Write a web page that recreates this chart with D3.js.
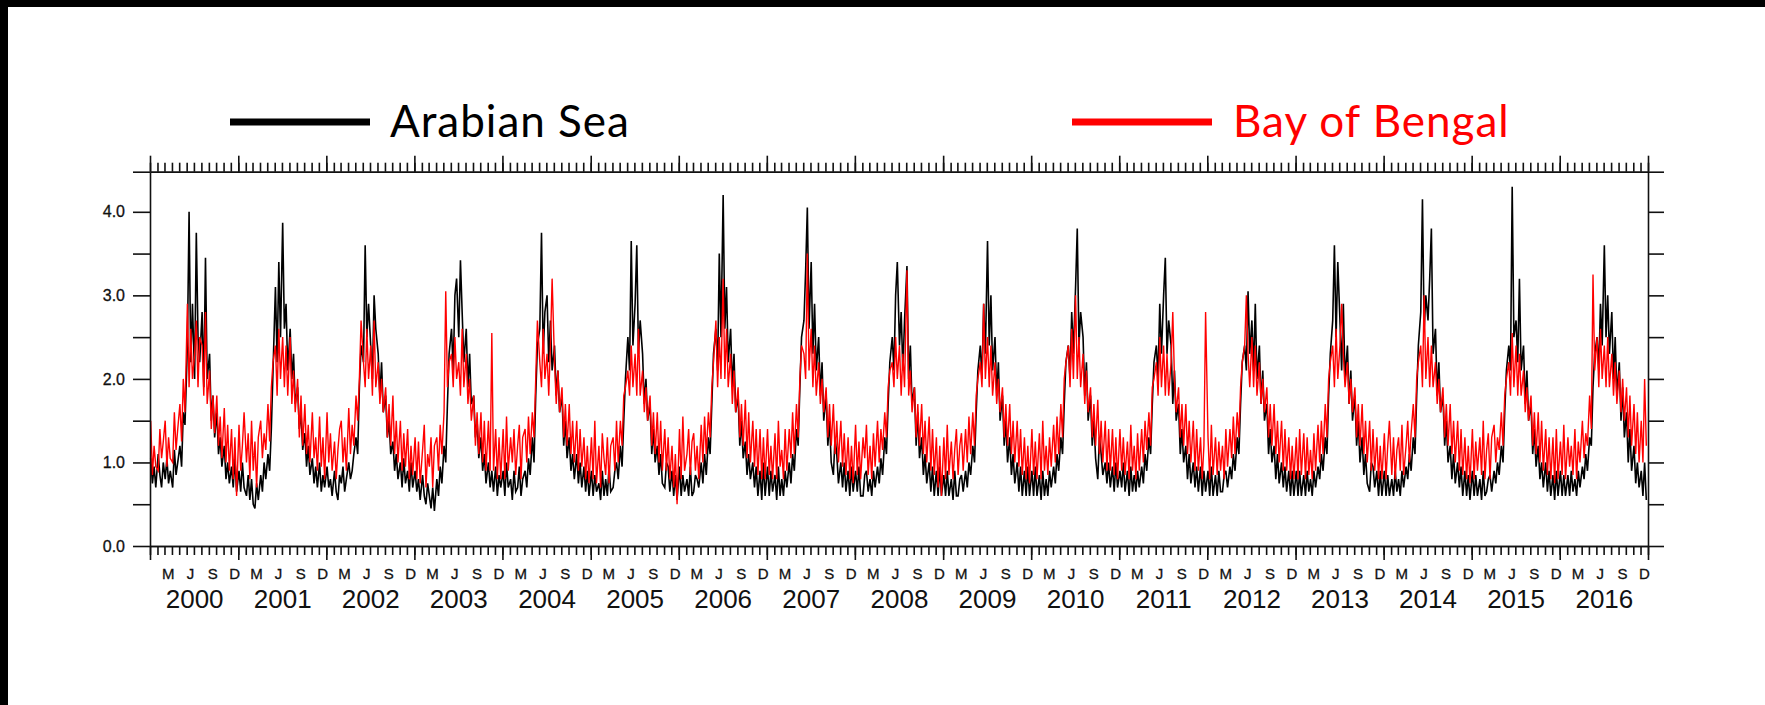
<!DOCTYPE html>
<html>
<head>
<meta charset="utf-8">
<script src="https://cdn.jsdelivr.net/npm/d3@7"></script>
<style>
  body { margin: 0; background: #fff; }
  svg { display: block; }
  .axis path, .axis line { stroke: #111; stroke-width: 1.6; }
  .axis text { fill: #111; font-family: "Liberation Sans", Arial, sans-serif; }
  .legend text { font-family: Lato, "Open Sans", sans-serif; font-size: 44px; letter-spacing: 1px; }
</style>
</head>
<body>
<div class="chart"></div>
<script>
// 年と月ラベル
const years = d3.range(2000, 2017);
const monthLetters = ["M", "J", "S", "D"];
const labelMonths = [2, 5, 8, 11];

// 週ごとの値 (各月 4, 11, 18, 25 日) 2000-2016, 1行 = 1年
const arabianSea = [
  1.05,0.75,0.95,0.7, 1.1,0.85,0.7,1.0, 0.8,1.05,0.75,0.9, 0.7,1.15,0.85,1.0, 1.2,0.95,1.6,1.45, 2.4,4.0,2.2,2.9, 2.0,3.75,2.5,2.2, 2.8,1.9,3.45,2.0, 2.3,1.5,1.8,1.3, 1.6,1.1,1.3,0.95, 1.2,0.8,1.0,0.75, 0.95,0.7,1.05,0.65,
  0.9,0.65,1.0,0.7, 0.6,0.85,0.55,0.8, 0.5,0.45,0.75,0.55, 0.85,0.65,1.0,0.8, 1.1,0.9,1.4,2.1, 3.1,2.2,3.4,2.5, 3.87,2.6,2.9,2.1, 2.6,2.0,2.3,1.7, 1.9,1.4,1.6,1.15, 1.35,0.95,1.2,0.85, 1.05,0.75,0.95,0.7, 1.0,0.65,0.85,0.7,
  0.95,0.7,0.8,0.6, 0.9,0.65,0.55,0.85, 0.75,0.95,0.65,0.8, 1.0,0.8,0.9,1.1, 1.3,1.1,1.9,2.4, 2.2,3.6,2.5,2.9, 2.4,2.0,3.0,2.6, 2.3,1.8,2.2,1.6, 1.8,1.3,1.5,1.1, 1.25,0.9,1.1,0.8, 1.0,0.7,1.05,0.75, 0.9,0.65,1.0,0.7,
  0.9,0.65,0.8,0.55, 0.85,0.6,0.5,0.75, 0.6,0.45,0.7,0.42, 0.8,0.6,0.95,0.75, 1.2,1.0,1.7,2.3, 2.6,2.1,3.0,3.2, 2.5,3.42,2.8,2.2, 2.6,1.9,2.3,1.7, 1.8,1.3,1.5,1.05, 1.3,0.9,1.1,0.75, 1.0,0.7,0.9,0.65, 0.95,0.6,0.85,0.7,
  0.9,0.6,1.0,0.7, 0.8,0.55,0.9,0.65, 0.7,0.95,0.6,0.8, 0.9,0.7,1.05,0.85, 1.3,1.0,1.8,2.4, 2.6,3.75,2.3,2.8, 3.0,2.2,2.7,2.1, 2.4,1.8,2.1,1.6, 1.8,1.2,1.5,1.05, 1.3,0.9,1.1,0.8, 1.1,0.75,1.0,0.7, 0.95,0.65,0.9,0.6,
  0.9,0.6,0.85,0.65, 0.75,0.55,0.9,0.6, 0.8,0.6,0.95,0.65, 0.7,0.9,1.0,0.8, 1.2,0.95,1.5,2.0, 2.5,2.1,3.65,2.4, 2.9,3.6,2.3,2.7, 2.3,1.7,2.0,1.5, 1.7,1.1,1.4,1.0, 1.2,0.85,1.1,0.75, 0.7,1.0,0.95,0.65, 0.9,0.6,0.85,0.55,
  0.95,0.6,0.85,0.65, 0.8,0.6,0.95,0.6, 0.65,0.85,0.8,0.7, 1.0,0.75,1.1,0.85, 1.3,1.1,1.7,2.3, 2.6,2.1,3.5,2.5, 4.2,2.6,3.1,2.2, 2.6,1.9,2.3,1.6, 1.8,1.2,1.5,1.05, 1.25,0.85,1.1,0.8, 1.0,0.7,0.95,0.6, 0.9,0.55,1.0,0.6,
  0.95,0.6,0.9,0.65, 0.85,0.55,0.95,0.6, 0.8,0.6,0.9,0.7, 1.0,0.75,1.1,0.9, 1.4,1.2,1.9,2.5, 2.7,3.3,4.05,2.6, 3.4,2.3,2.9,2.1, 2.5,1.8,2.2,1.5, 1.8,1.2,1.5,1.0, 0.85,1.3,1.1,0.75, 1.0,0.7,1.0,0.65, 0.9,0.6,0.95,0.65,
  0.9,0.65,0.95,0.6, 0.6,0.85,0.9,0.65, 0.8,0.6,0.9,0.7, 0.95,0.75,1.05,0.85, 1.3,1.1,1.7,2.2, 2.5,2.1,3.0,3.4, 2.4,2.8,2.1,2.7, 3.35,2.0,2.4,1.7, 1.9,1.2,1.6,1.05, 1.3,0.85,1.1,0.75, 1.0,0.65,0.95,0.6, 0.9,0.6,0.95,0.6,
  0.85,0.6,0.9,0.6, 0.8,0.55,0.9,0.6, 0.6,0.8,0.85,0.65, 0.9,0.7,1.0,0.85, 1.2,1.0,1.6,2.1, 2.4,2.0,2.9,2.3, 3.65,2.4,3.0,2.1, 2.5,1.8,2.2,1.5, 1.8,1.2,1.5,1.0, 1.3,0.85,1.1,0.75, 1.0,0.65,0.95,0.6, 0.9,0.6,0.95,0.6,
  0.9,0.6,0.95,0.6, 0.85,0.55,0.9,0.6, 0.8,0.6,0.9,0.7, 0.95,0.75,1.1,0.9, 1.3,1.1,1.7,2.2, 2.4,2.0,2.8,2.3, 3.1,3.8,2.4,2.8, 2.5,1.8,2.2,1.5, 1.8,1.2,1.5,1.05, 0.8,1.3,1.1,0.85, 1.0,0.75,1.0,0.7, 0.95,0.65,1.0,0.7,
  0.9,0.7,1.0,0.65, 0.9,0.6,0.95,0.65, 0.85,0.65,0.9,0.7, 0.95,0.75,1.1,0.9, 1.3,1.1,1.7,2.2, 2.4,2.0,2.9,2.3, 3.0,3.45,2.3,2.7, 2.4,1.7,2.1,1.5, 1.7,1.1,1.4,1.0, 1.2,0.8,1.1,0.75, 1.0,0.7,0.95,0.65, 0.95,0.6,0.9,0.65,
  0.9,0.6,0.95,0.6, 0.85,0.6,0.9,0.65, 0.65,0.85,0.9,0.7, 0.95,0.8,1.1,0.9, 1.3,1.1,1.7,2.2, 2.4,2.1,3.05,2.3, 2.7,2.1,2.9,2.0, 2.4,1.7,2.1,1.5, 1.7,1.1,1.4,1.0, 1.2,0.8,1.1,0.75, 1.0,0.7,0.95,0.65, 0.9,0.6,0.9,0.6,
  0.9,0.6,0.9,0.6, 0.85,0.6,0.9,0.65, 0.8,0.6,0.9,0.7, 0.95,0.8,1.1,0.9, 1.3,1.1,1.8,2.3, 2.7,3.6,2.5,3.4, 2.7,2.1,2.9,2.0, 2.4,1.7,2.1,1.5, 1.8,1.2,1.5,1.0, 1.3,0.85,1.1,0.75, 0.65,1.0,0.95,0.7, 0.9,0.6,0.9,0.6,
  0.9,0.6,0.85,0.6, 0.8,0.6,0.9,0.65, 0.8,0.6,0.9,0.7, 0.95,0.8,1.1,0.9, 1.3,1.1,1.8,2.4, 2.8,4.15,2.6,3.0, 2.7,3.2,3.8,2.3, 2.6,1.8,2.2,1.6, 1.8,1.2,1.5,1.0, 1.2,0.8,1.1,0.75, 1.0,0.7,0.95,0.6, 0.9,0.6,0.85,0.55,
  0.9,0.6,0.85,0.6, 0.8,0.55,0.9,0.6, 0.65,0.8,0.85,0.65, 0.9,0.75,1.0,0.85, 1.2,1.0,1.6,2.1, 2.4,2.1,4.3,2.5, 2.7,2.2,3.2,2.1, 2.4,1.7,2.1,1.5, 1.7,1.1,1.4,0.95, 1.2,0.8,1.0,0.7, 1.0,0.65,0.9,0.6, 0.85,0.55,0.9,0.6,
  0.9,0.6,0.85,0.6, 0.85,0.6,0.9,0.65, 0.8,0.6,0.9,0.7, 0.95,0.8,1.1,0.9, 1.3,1.2,1.9,2.3, 2.5,2.1,2.9,2.4, 3.6,2.5,3.0,2.3, 2.8,2.0,2.5,1.8, 2.2,1.5,1.9,1.3, 1.6,1.0,1.4,0.9, 1.2,0.75,1.0,0.7, 0.9,0.6,1.0,0.55
];

const bayOfBengal = [
  1.5,0.85,1.2,0.95, 0.9,1.4,1.05,1.25, 1.5,0.95,1.3,1.05, 1.0,1.6,1.15,1.4, 1.7,1.25,2.0,1.6, 2.9,1.9,2.6,2.0, 2.3,2.7,1.9,2.5, 2.4,1.8,2.8,1.7, 2.1,1.4,1.8,1.35, 1.8,1.2,1.55,1.05, 1.65,1.0,1.45,0.9, 1.4,0.8,1.3,0.6,
  1.45,0.9,1.2,1.6, 1.0,1.35,0.8,1.5, 0.9,1.25,0.7,1.3, 1.5,1.05,1.35,1.15, 1.7,1.25,1.9,2.2, 2.4,1.8,2.6,2.0, 2.5,1.9,2.4,1.8, 2.5,1.7,2.1,1.6, 2.0,1.3,1.8,1.2, 1.7,1.1,1.45,1.0, 1.6,1.05,1.3,0.9, 1.55,0.95,1.3,0.8,
  1.6,1.0,1.35,0.9, 1.25,0.8,1.15,1.4, 1.5,1.0,1.3,0.9, 1.65,1.1,1.45,1.2, 1.8,1.5,2.0,2.7, 2.2,1.9,2.6,2.0, 2.4,1.8,2.7,1.9, 2.2,1.7,2.0,1.6, 1.9,1.3,1.7,1.2, 1.8,1.1,1.5,1.0, 1.5,0.9,1.35,0.95, 1.4,0.8,1.2,0.85,
  1.3,0.8,1.25,0.75, 1.15,1.45,0.7,1.1, 0.95,1.3,0.7,1.2, 1.3,0.9,1.45,1.1, 1.6,3.05,1.9,2.2, 2.3,1.9,2.5,2.0, 2.2,1.8,2.6,1.9, 2.3,1.7,2.0,1.5, 1.8,1.2,1.6,1.1, 1.6,1.0,1.5,0.9, 1.5,0.9,2.55,0.9, 1.4,0.8,1.3,0.8,
  1.4,0.8,1.55,0.9, 1.3,1.0,1.4,0.85, 1.2,1.45,0.8,1.3, 1.4,1.0,1.55,1.1, 1.6,1.3,2.0,2.7, 2.2,1.9,2.6,2.0, 2.3,1.8,2.4,3.2, 2.2,1.7,2.1,1.6, 1.9,1.3,1.7,1.2, 1.7,1.1,1.5,1.0, 1.5,0.9,1.4,0.95, 1.3,0.8,1.2,0.75,
  1.3,0.8,1.5,0.75, 1.2,0.7,1.35,1.05, 0.85,1.3,0.75,1.2, 1.3,0.9,1.5,1.0, 1.5,1.2,1.8,1.9, 2.1,1.8,2.4,1.9, 2.3,1.8,2.6,1.8, 2.1,1.6,1.9,1.5, 1.8,1.2,1.6,1.1, 1.6,1.0,1.5,0.9, 1.4,0.9,1.3,0.8, 1.2,0.7,1.1,0.5,
  1.4,0.8,1.55,0.9, 1.1,1.4,0.85,1.25, 1.35,0.9,1.2,0.8, 1.45,1.0,1.55,1.1, 1.6,1.3,1.9,2.2, 2.7,1.9,2.5,2.0, 3.2,2.0,2.6,1.9, 2.3,1.7,2.1,1.6, 1.9,1.3,1.7,1.2, 1.75,1.05,1.6,1.0, 1.5,0.95,1.4,0.85, 1.4,0.8,1.3,0.8,
  1.4,0.85,1.2,0.8, 1.35,0.8,1.5,0.95, 1.15,0.8,1.4,0.9, 1.4,1.05,1.6,1.1, 1.7,1.3,2.0,2.4, 2.3,2.0,3.5,2.1, 2.6,1.9,2.4,1.8, 2.2,1.7,2.0,1.6, 1.9,1.3,1.7,1.2, 1.7,1.1,1.5,1.0, 1.5,0.95,1.35,0.85, 1.3,0.8,1.2,0.75,
  1.45,0.85,1.25,0.8, 1.3,1.05,1.45,0.85, 1.2,0.8,1.35,0.95, 1.5,1.0,1.4,1.15, 1.6,1.3,1.9,2.1, 2.2,1.9,2.5,2.0, 2.4,1.8,2.3,1.9, 3.3,1.8,2.1,1.6, 1.9,1.3,1.7,1.2, 1.7,1.1,1.5,1.0, 1.55,0.9,1.4,0.85, 1.3,0.7,1.2,0.6,
  1.3,0.8,1.45,0.85, 1.25,0.8,1.15,1.4, 0.85,1.2,1.35,0.9, 1.4,1.0,1.55,1.1, 1.6,1.2,1.8,2.0, 2.2,1.9,2.9,2.0, 2.5,1.9,2.4,1.8, 2.2,1.7,2.0,1.6, 1.9,1.3,1.7,1.2, 1.7,1.1,1.5,1.0, 1.5,0.95,1.4,0.85, 1.3,0.8,1.2,0.75,
  1.4,0.85,1.25,0.8, 1.35,0.8,1.5,0.9, 1.2,0.85,1.3,0.95, 1.45,1.0,1.55,1.1, 1.7,1.3,2.0,2.2, 2.4,1.9,2.6,2.0, 3.0,2.0,2.5,1.9, 2.3,1.7,2.1,1.6, 1.9,1.3,1.7,1.2, 1.75,1.1,1.5,1.0, 1.5,0.9,1.4,0.9, 1.4,0.85,1.3,0.8,
  1.4,0.9,1.3,0.85, 1.25,0.8,1.45,0.9, 1.2,0.8,1.35,0.9, 1.4,1.0,1.5,1.15, 1.6,1.2,1.9,2.0, 2.2,1.8,2.5,1.9, 2.4,1.8,2.3,1.8, 2.2,2.8,2.0,1.6, 1.9,1.3,1.7,1.2, 1.7,1.1,1.5,1.0, 1.5,0.9,1.4,0.9, 1.3,0.8,1.2,2.8,
  1.3,0.8,1.45,0.85, 1.3,0.85,1.25,0.9, 1.2,0.8,1.4,0.95, 1.4,1.05,1.55,1.1, 1.6,1.3,1.9,2.2, 2.4,3.0,2.3,1.9, 2.5,1.9,2.4,1.8, 2.2,1.7,2.0,1.6, 1.9,1.3,1.7,1.2, 1.7,1.1,1.5,1.0, 1.5,0.9,1.4,0.9, 1.3,0.8,1.2,0.8,
  1.3,0.8,1.4,0.85, 1.35,0.8,1.3,0.85, 1.15,0.8,1.35,0.9, 1.45,1.0,1.5,1.1, 1.7,1.3,2.0,2.2, 2.4,1.9,2.6,2.0, 2.4,2.9,2.3,1.9, 2.2,1.7,2.0,1.6, 1.9,1.3,1.7,1.2, 1.7,1.1,1.5,1.0, 1.5,0.9,1.4,0.9, 1.3,0.8,1.2,0.8,
  1.35,0.8,1.2,1.5, 0.85,1.3,0.8,1.15, 1.3,0.9,1.45,0.85, 1.2,1.5,1.0,1.35, 1.7,1.3,2.0,2.2, 2.4,1.9,3.0,2.0, 2.5,1.9,2.4,1.9, 2.2,1.7,2.0,1.6, 1.9,1.3,1.7,1.2, 1.7,1.1,1.5,1.0, 1.5,0.9,1.4,0.85, 1.3,0.8,1.2,0.75,
  1.4,0.8,1.25,0.9, 1.3,0.85,1.5,0.8, 1.15,1.35,0.8,1.3, 1.45,1.0,1.3,1.15, 1.6,1.2,1.8,2.0, 2.2,1.8,2.55,1.9, 2.4,1.8,2.3,1.8, 2.1,1.6,1.9,1.5, 1.8,1.2,1.6,1.1, 1.6,1.0,1.5,0.9, 1.4,0.85,1.3,0.8, 1.3,0.75,1.4,0.8,
  1.25,0.85,1.45,0.8, 1.3,0.95,1.2,0.85, 1.4,0.8,1.25,1.0, 1.5,1.05,1.35,1.2, 1.8,1.4,3.25,2.1, 2.5,1.9,2.6,2.0, 2.4,1.9,2.5,1.9, 2.3,1.8,2.2,1.7, 2.1,1.6,2.0,1.5, 1.9,1.3,1.8,1.2, 1.7,1.1,1.6,1.0, 1.5,1.0,2.0,1.2
];

// 日付の割り当て (各月4点)
const toDate = i => new Date(Date.UTC(years[0] + Math.floor(i / 48), Math.floor((i % 48) / 4), 4 + 7 * (i % 4)));
const seriesAS = arabianSea.map((v, i) => ({ date: toDate(i), value: v }));
const seriesBoB = bayOfBengal.map((v, i) => ({ date: toDate(i), value: v }));

const W = 1765, H = 705;
const plot = { left: 150, right: 1648, top: 171.7, bottom: 546 };

const svg = d3.select(".chart").append("svg").attr("width", W).attr("height", H);
svg.append("rect").attr("width", W).attr("height", H).attr("fill", "#fff");
// スライドの黒い縁
svg.append("rect").attr("x", 0).attr("y", 0).attr("width", W).attr("height", 7).attr("fill", "#000");
svg.append("rect").attr("x", 0).attr("y", 0).attr("width", 8).attr("height", H).attr("fill", "#000");

// スケール
const x = d3.scaleUtc()
  .domain([new Date(Date.UTC(2000, 0, 1)), new Date(Date.UTC(2017, 0, 1))])
  .range([plot.left, plot.right]);
const yTop = 4.48;
const y = d3.scaleLinear().domain([0, yTop]).range([plot.bottom, plot.top]);

// 線 (赤を上に)
const line = d3.line().x(d => x(d.date)).y(d => y(d.value));
svg.append("path").datum(seriesAS)
  .attr("fill", "none").attr("stroke", "#000").attr("stroke-width", 1.6).attr("d", line);
svg.append("path").datum(seriesBoB)
  .attr("fill", "none").attr("stroke", "#ff0000").attr("stroke-width", 1.4).attr("d", line);

// 軸
const yearStarts = years.concat([2017]).map(yr => new Date(Date.UTC(yr, 0, 1)));
const yTicks = d3.range(0, 4.01, 0.5).concat([yTop]);

svg.append("g").attr("class", "axis").attr("transform", `translate(0,${plot.bottom})`)
  .call(d3.axisBottom(x).ticks(d3.utcMonth.every(1)).tickSize(9).tickSizeOuter(0).tickFormat(""));
svg.append("g").attr("class", "axis").attr("transform", `translate(0,${plot.bottom})`)
  .call(d3.axisBottom(x).tickValues(yearStarts).tickSize(14).tickSizeOuter(0).tickFormat(""));
svg.append("g").attr("class", "axis").attr("transform", `translate(0,${plot.top})`)
  .call(d3.axisTop(x).ticks(d3.utcMonth.every(1)).tickSize(9).tickSizeOuter(0).tickFormat(""));
svg.append("g").attr("class", "axis").attr("transform", `translate(0,${plot.top})`)
  .call(d3.axisTop(x).tickValues(yearStarts).tickSize(16).tickSizeOuter(0).tickFormat(""));

svg.append("g").attr("class", "axis").attr("transform", `translate(${plot.left},0)`)
  .call(d3.axisLeft(y).tickValues(yTicks).tickSize(17).tickSizeOuter(0).tickPadding(8)
    .tickFormat(d => Number.isInteger(d) ? d3.format(".1f")(d) : ""))
  .selectAll("text").style("font-size", "16px").style("stroke", "#111").style("stroke-width", 0.3);
svg.append("g").attr("class", "axis").attr("transform", `translate(${plot.right},0)`)
  .call(d3.axisRight(y).tickValues(yTicks).tickSize(16).tickSizeOuter(0).tickFormat(""));

// 月ラベル (M J S D)
const monthLabelDates = [];
years.forEach(yr => labelMonths.forEach(m => monthLabelDates.push(new Date(Date.UTC(yr, m, 15)))));
const monthAxis = svg.append("g").attr("class", "axis").attr("transform", `translate(0,${plot.bottom})`)
  .call(d3.axisBottom(x).tickValues(monthLabelDates).tickSize(0).tickPadding(22)
    .tickFormat(d => monthLetters[labelMonths.indexOf(d.getUTCMonth())]));
monthAxis.select(".domain").remove();
monthAxis.selectAll("text").style("font-size", "15px").style("stroke", "#111").style("stroke-width", 0.3);

// 年ラベル
const yearMid = years.map(yr => new Date(Date.UTC(yr, 6, 2)));
const yearAxis = svg.append("g").attr("class", "axis").attr("transform", `translate(0,${plot.bottom})`)
  .call(d3.axisBottom(x).tickValues(yearMid).tickSize(0).tickPadding(44)
    .tickFormat(d => d.getUTCFullYear()));
yearAxis.select(".domain").remove();
yearAxis.selectAll("text").style("font-size", "26px");

// 凡例
const legendItems = [
  { name: "Arabian Sea", color: "#000", x1: 230, x2: 370, tx: 390 },
  { name: "Bay of Bengal", color: "#ff0000", x1: 1072, x2: 1212, tx: 1233 }
];
const legend = svg.append("g").attr("class", "legend");
legend.selectAll("line").data(legendItems).enter().append("line")
  .attr("x1", d => d.x1).attr("x2", d => d.x2).attr("y1", 122).attr("y2", 122)
  .attr("stroke", d => d.color).attr("stroke-width", 7);
legend.selectAll("text").data(legendItems).enter().append("text")
  .attr("x", d => d.tx).attr("y", 137).attr("fill", d => d.color).text(d => d.name);
</script>
</body>
</html>
